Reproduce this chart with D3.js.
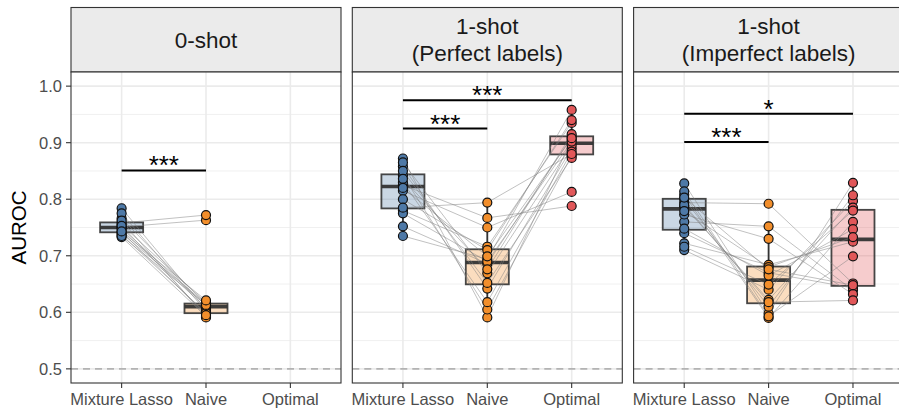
<!DOCTYPE html>
<html>
<head>
<meta charset="utf-8">
<script src="https://cdn.jsdelivr.net/npm/d3@7"></script>
<style>
  html, body { margin: 0; padding: 0; background: #fff; }
  svg { display: block; }
  text { font-family: "Liberation Sans", Arial, Helvetica, sans-serif; }
</style>
</head>
<body>
<svg id="chart" width="899" height="415"></svg>
<script>
// ---------------- DATA ----------------
const methods = ["Mixture Lasso", "Naive", "Optimal"];
const panelTitles = [["0-shot"], ["1-shot", "(Perfect labels)"], ["1-shot", "(Imperfect labels)"]];
const methodColors = ["#4E79A7", "#F28E2B", "#E15759"];
const yTicks = [0.5, 0.6, 0.7, 0.8, 0.9, 1.0];
const yMinor = [0.55, 0.65, 0.75, 0.85, 0.95];

// values per subject (same index = same subject)
const zeroShotLasso = [0.751, 0.784, 0.742, 0.766, 0.733, 0.758, 0.746, 0.775, 0.737, 0.755, 0.749, 0.762, 0.740, 0.753, 0.735, 0.743];
const zeroShotNaive = [0.763, 0.605, 0.597, 0.614, 0.593, 0.772, 0.608, 0.602, 0.599, 0.617, 0.612, 0.591, 0.615, 0.595, 0.613, 0.621];

const perfectLasso   = [0.872, 0.735, 0.825, 0.858, 0.780, 0.842, 0.752, 0.815, 0.865, 0.800, 0.830, 0.775, 0.850, 0.785, 0.836, 0.820];
const perfectNaive   = [0.591, 0.694, 0.767, 0.642, 0.716, 0.605, 0.686, 0.750, 0.669, 0.710, 0.618, 0.690, 0.652, 0.794, 0.676, 0.699];
const perfectOptimal = [0.905, 0.958, 0.788, 0.890, 0.935, 0.877, 0.910, 0.813, 0.896, 0.940, 0.884, 0.902, 0.873, 0.880, 0.915, 0.908];

const imperfectLasso   = [0.794, 0.710, 0.828, 0.760, 0.787, 0.722, 0.808, 0.740, 0.800, 0.773, 0.716, 0.814, 0.748, 0.790, 0.779, 0.803];
const imperfectNaive   = [0.792, 0.640, 0.598, 0.752, 0.622, 0.684, 0.590, 0.670, 0.610, 0.730, 0.649, 0.593, 0.665, 0.618, 0.680, 0.676];
const imperfectOptimal = [0.651, 0.797, 0.829, 0.639, 0.785, 0.725, 0.760, 0.643, 0.807, 0.632, 0.780, 0.699, 0.747, 0.621, 0.733, 0.648];

// significance brackets
const sigPanel = [0, 1, 1, 2, 2];
const sigFrom  = ["Mixture Lasso", "Mixture Lasso", "Mixture Lasso", "Mixture Lasso", "Mixture Lasso"];
const sigTo    = ["Naive", "Naive", "Optimal", "Naive", "Optimal"];
const sigY     = [0.851, 0.925, 0.975, 0.901, 0.951];
const sigLabel = ["***", "***", "***", "***", "*"];

const panelData = [
  [zeroShotLasso, zeroShotNaive, null],
  [perfectLasso, perfectNaive, perfectOptimal],
  [imperfectLasso, imperfectNaive, imperfectOptimal]
];

// ---------------- LAYOUT ----------------
const svg = d3.select("#chart");
const panelW = 270, panelGap = 11.3;
const firstLeft = 71;
const stripTop = 7.5, panelTop = 72, panelBottom = 383;

const y = d3.scaleLinear().domain([0.475, 1.025]).range([panelBottom, panelTop]);
const x = d3.scalePoint().domain(methods).range([0, panelW]).padding(0.6);
const unit = x.step();
const boxW = unit * 0.51;

function boxStats(vals) {
  const s = vals.slice().sort(d3.ascending);
  const q1 = d3.quantile(s, 0.25), med = d3.quantile(s, 0.5), q3 = d3.quantile(s, 0.75);
  const iqr = q3 - q1;
  const lo = d3.min(s.filter(v => v >= q1 - 1.5 * iqr));
  const hi = d3.max(s.filter(v => v <= q3 + 1.5 * iqr));
  return {q1, med, q3, lo, hi};
}

function rgba(hex, a) {
  const c = d3.color(hex); c.opacity = a; return c + "";
}

// Y axis title
svg.append("text")
  .attr("transform", `translate(25.5,${(panelTop + panelBottom) / 2}) rotate(-90)`)
  .attr("text-anchor", "middle")
  .attr("font-size", 20.5)
  .attr("fill", "#000")
  .text("AUROC");

panelData.forEach((series, p) => {
  const left = firstLeft + p * (panelW + panelGap);
  const g = svg.append("g").attr("transform", `translate(${left},0)`);
  const clipId = "clip" + p;
  g.append("clipPath").attr("id", clipId)
    .append("rect").attr("x", 0).attr("y", panelTop).attr("width", panelW).attr("height", panelBottom - panelTop);

  // strip
  g.append("rect")
    .attr("x", 0).attr("y", stripTop).attr("width", panelW).attr("height", panelTop - stripTop)
    .attr("fill", "#ebebeb").attr("stroke", "#333").attr("stroke-width", 1.1);
  const lines = panelTitles[p];
  const stripMid = (stripTop + panelTop) / 2;
  const lh = 27;
  lines.forEach((t, i) => {
    g.append("text")
      .attr("x", panelW / 2)
      .attr("y", stripMid + (i - (lines.length - 1) / 2) * lh)
      .attr("dy", "0.36em")
      .attr("text-anchor", "middle")
      .attr("font-size", 22.5)
      .attr("fill", "#1a1a1a")
      .text(t);
  });

  const inner = g.append("g").attr("clip-path", `url(#${clipId})`);
  inner.append("rect").attr("x", 0).attr("y", panelTop).attr("width", panelW).attr("height", panelBottom - panelTop).attr("fill", "#fff");
  // minor grid
  inner.selectAll(".minor").data(yMinor).join("line")
    .attr("x1", 0).attr("x2", panelW).attr("y1", d => y(d)).attr("y2", d => y(d))
    .attr("stroke", "#f0f0f0").attr("stroke-width", 1);
  // major grid
  inner.selectAll(".majorY").data(yTicks).join("line")
    .attr("x1", 0).attr("x2", panelW).attr("y1", d => y(d)).attr("y2", d => y(d))
    .attr("stroke", "#ebebeb").attr("stroke-width", 1.6);
  inner.selectAll(".majorX").data(methods).join("line")
    .attr("x1", d => x(d)).attr("x2", d => x(d)).attr("y1", panelTop).attr("y2", panelBottom)
    .attr("stroke", "#ebebeb").attr("stroke-width", 1.6);
  // reference dashed line
  inner.append("line")
    .attr("x1", 0).attr("x2", panelW).attr("y1", y(0.5)).attr("y2", y(0.5))
    .attr("stroke", "#b3b3b3").attr("stroke-width", 1.7).attr("stroke-dasharray", "7,5");

  // boxplots
  series.forEach((vals, m) => {
    if (!vals) return;
    const st = boxStats(vals);
    const cx = x(methods[m]);
    const bg = inner.append("g");
    bg.append("line").attr("x1", cx).attr("x2", cx).attr("y1", y(st.q3)).attr("y2", y(st.hi))
      .attr("stroke", "#333").attr("stroke-width", 1.8);
    bg.append("line").attr("x1", cx).attr("x2", cx).attr("y1", y(st.q1)).attr("y2", y(st.lo))
      .attr("stroke", "#333").attr("stroke-width", 1.8);
    bg.append("rect")
      .attr("x", cx - boxW / 2).attr("width", boxW)
      .attr("y", y(st.q3)).attr("height", y(st.q1) - y(st.q3))
      .attr("fill", rgba(methodColors[m], 0.3))
      .attr("stroke", "#333").attr("stroke-opacity", 0.9).attr("stroke-width", 1.8);
    bg.append("line")
      .attr("x1", cx - boxW / 2).attr("x2", cx + boxW / 2).attr("y1", y(st.med)).attr("y2", y(st.med))
      .attr("stroke", "#333").attr("stroke-opacity", 0.95).attr("stroke-width", 3.6);
  });

  // subject lines
  const n = series[0].length;
  const lineGen = d3.line().x(d => x(d.m)).y(d => y(d.v));
  const subjects = d3.range(n).map(i => series.map((vals, m) => vals ? {m: methods[m], v: vals[i]} : null).filter(d => d));
  inner.selectAll(".subj").data(subjects).join("path")
    .attr("d", lineGen).attr("fill", "none")
    .attr("stroke", "#808080").attr("stroke-opacity", 0.55).attr("stroke-width", 0.9);

  // points
  series.forEach((vals, m) => {
    if (!vals) return;
    inner.selectAll(".pt" + m).data(vals).join("circle")
      .attr("cx", x(methods[m])).attr("cy", d => y(d)).attr("r", 4.5)
      .attr("fill", methodColors[m]).attr("stroke", "#111").attr("stroke-width", 1.2);
  });

  // significance brackets
  sigPanel.forEach((sp, k) => {
    if (sp !== p) return;
    const x1 = x(sigFrom[k]), x2 = x(sigTo[k]), yy = y(sigY[k]);
    inner.append("line").attr("x1", x1).attr("x2", x2).attr("y1", yy).attr("y2", yy)
      .attr("stroke", "#000").attr("stroke-width", 2);
    inner.append("text")
      .attr("x", (x1 + x2) / 2).attr("y", yy + 4)
      .attr("text-anchor", "middle").attr("font-size", 26).attr("fill", "#000")
      .text(sigLabel[k]);
  });

  // panel border
  g.append("rect").attr("x", 0).attr("y", panelTop).attr("width", panelW).attr("height", panelBottom - panelTop)
    .attr("fill", "none").attr("stroke", "#333").attr("stroke-width", 1.1);

  // x axis ticks and labels
  const xa = g.append("g");
  methods.forEach(mname => {
    xa.append("line").attr("x1", x(mname)).attr("x2", x(mname)).attr("y1", panelBottom).attr("y2", panelBottom + 5)
      .attr("stroke", "#333").attr("stroke-width", 1.1);
    xa.append("text").attr("x", x(mname)).attr("y", panelBottom + 22)
      .attr("text-anchor", "middle").attr("font-size", 16.5).attr("fill", "#4d4d4d").text(mname);
  });

  // y axis (first panel only)
  if (p === 0) {
    yTicks.forEach(t => {
      g.append("line").attr("x1", -5).attr("x2", 0).attr("y1", y(t)).attr("y2", y(t))
        .attr("stroke", "#333").attr("stroke-width", 1.1);
      g.append("text").attr("x", -9).attr("y", y(t)).attr("dy", "0.36em")
        .attr("text-anchor", "end").attr("font-size", 16.5).attr("fill", "#4d4d4d")
        .text(d3.format(".1f")(t));
    });
  }
});
</script>
</body>
</html>
